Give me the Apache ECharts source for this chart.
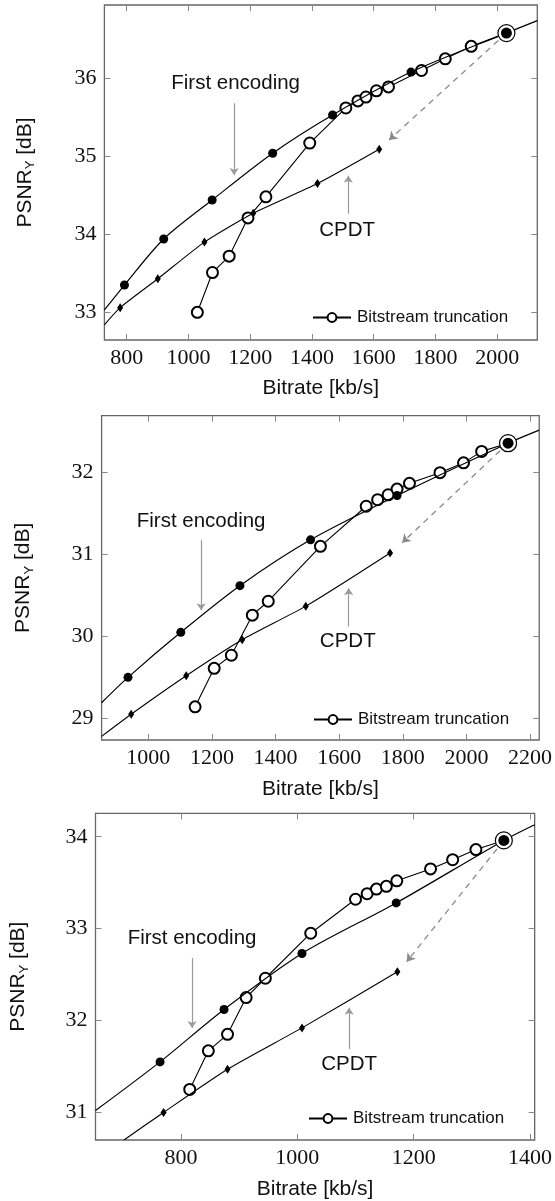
<!DOCTYPE html>
<html><head><meta charset="utf-8">
<script src="https://cdn.jsdelivr.net/npm/echarts@6/dist/echarts.min.js"></script>
<style>html,body{margin:0;padding:0;background:#fff}#c{width:555px;height:1201px}</style>
</head><body><div id="c"></div>
<script>
// ---------- Panel 1 data ----------
const p1FirstEnc = [[793,33.35],[920,33.94],[1077,34.44],[1273,35.04],[1467,35.53],[1721,36.08],[2030,36.58]];
const p1FirstEncExt = [[728,33.03],[2130,36.74]];
const p1Trunc = [[1029,33.00],[1078,33.51],[1132,33.72],[1193,34.21],[1251,34.48],[1393,35.17],[1510,35.62],[1549,35.71],[1575,35.76],[1609,35.84],[1648,35.89],[1755,36.10],[1832,36.25],[1916,36.41],[2030,36.58]];
const p1Cpdt = [[779,33.06],[901,33.43],[1052,33.90],[1210,34.27],[1418,34.65],[1618,35.09]];
const p1CpdtExt = [[728,32.84]];
const p1Start = [2030,36.58];
const p1XTicks = [800,1000,1200,1400,1600,1800,2000];
const p1YTicks = [33,34,35,36];

// ---------- Panel 2 data ----------
const p2FirstEnc = [[936,29.50],[1102,30.05],[1288,30.62],[1510,31.18],[1782,31.72],[2131,32.36]];
const p2FirstEncExt = [[853,29.19],[2229,32.52]];
const p2Trunc = [[1147,29.14],[1207,29.61],[1261,29.77],[1327,30.26],[1377,30.43],[1541,31.10],[1685,31.59],[1721,31.67],[1754,31.73],[1782,31.80],[1821,31.87],[1917,32.00],[1991,32.12],[2048,32.26],[2131,32.36]];
const p2Cpdt = [[946,29.05],[1119,29.52],[1295,29.96],[1495,30.37],[1760,31.02]];
const p2CpdtExt = [[853,28.78]];
const p2Start = [2131,32.36];
const p2XTicks = [1000,1200,1400,1600,1800,2000,2200];
const p2YTicks = [29,30,31,32];

// ---------- Panel 3 data ----------
const p3FirstEnc = [[764,31.55],[874,32.12],[1008,32.73],[1170,33.28],[1355,33.96]];
const p3FirstEncExt = [[653,31.02],[1408,34.13]];
const p3Trunc = [[815,31.25],[847,31.67],[880,31.85],[912,32.25],[945,32.46],[1023,32.95],[1100,33.32],[1120,33.38],[1136,33.43],[1153,33.46],[1171,33.52],[1229,33.65],[1267,33.75],[1307,33.86],[1355,33.96]];
const p3Cpdt = [[770,31.00],[880,31.47],[1008,31.92],[1172,32.53]];
const p3CpdtExt = [[702,30.70]];
const p3Start = [1355,33.96];
const p3XTicks = [800,1000,1200,1400];
const p3YTicks = [31,32,33,34];

const SANS = 'Liberation Sans', SERIF = 'Liberation Serif';

const panels = [
  {fe:p1FirstEnc, feExt:p1FirstEncExt, tr:p1Trunc, cp:p1Cpdt, cpExt:p1CpdtExt, start:p1Start, xt:p1XTicks, yt:p1YTicks,
   grid:{left:104.4, top:5, width:432.9, height:335}, x:[728,2130], y:[32.645,36.94],
   dashEnd:[1650,35.21], feText:[1153,35.93], feArrow:[[1148,35.68],[1148,34.76]],
   cpText:[1514,34.05], cpArrow:[[1518,34.265],[1518,34.75]], legend:{left:312, top:309}, yGap:67},
  {fe:p2FirstEnc, feExt:p2FirstEncExt, tr:p2Trunc, cp:p2Cpdt, cpExt:p2CpdtExt, start:p2Start, xt:p2XTicks, yt:p2YTicks,
   grid:{left:101.6, top:415.7, width:439.3, height:324.3}, x:[853,2229], y:[28.735,32.696],
   dashEnd:[1798,31.145], feText:[1166,31.41], feArrow:[[1166,31.18],[1166,30.32]],
   cpText:[1627,29.935], cpArrow:[[1630,30.12],[1630,30.59]], legend:{left:313, top:711}, yGap:66},
  {fe:p3FirstEnc, feExt:p3FirstEncExt, tr:p3Trunc, cp:p3Cpdt, cpExt:p3CpdtExt, start:p3Start, xt:p3XTicks, yt:p3YTicks,
   grid:{left:94.9, top:813.3, width:442.4, height:326.7}, x:[653,1408], y:[30.70,34.255],
   dashEnd:[1188,32.64], feText:[819,32.89], feArrow:[[819,32.68],[819,31.92]],
   cpText:[1089,31.52], cpArrow:[[1089,31.69],[1089,32.14]], legend:{left:308, top:1110}, yGap:65}
];

const option = {animation:false, backgroundColor:'#fff', grid:[], xAxis:[], yAxis:[], series:[], legend:[]};
const tickStyle = {show:true, inside:true, length:6, lineStyle:{color:'#888', width:1}};
const plain = v => String(v);

panels.forEach((p, i) => {
  option.grid.push(Object.assign({show:true, borderColor:'#666', borderWidth:1.3, backgroundColor:'transparent'}, p.grid));
  const xb = option.xAxis.length, yb = option.yAxis.length;
  option.xAxis.push({type:'value', gridIndex:i, position:'bottom', min:p.x[0], max:p.x[1],
    axisLine:{show:false}, splitLine:{show:false},
    axisTick:Object.assign({customValues:p.xt}, tickStyle),
    axisLabel:{customValues:p.xt, formatter:plain, fontFamily:SERIF, fontSize:22, color:'#111', margin:7},
    name:'Bitrate [kb/s]', nameLocation:'middle', nameGap:38 + (i>0?1:0),
    nameTextStyle:{fontFamily:SANS, fontSize:21, color:'#111', verticalAlign:'top'}});
  option.xAxis.push({type:'value', gridIndex:i, position:'top', min:p.x[0], max:p.x[1],
    axisLine:{show:false}, splitLine:{show:false}, axisLabel:{show:false},
    axisTick:Object.assign({customValues:p.xt}, tickStyle)});
  option.yAxis.push({type:'value', gridIndex:i, position:'left', min:p.y[0], max:p.y[1],
    axisLine:{show:false}, splitLine:{show:false},
    axisTick:Object.assign({customValues:p.yt}, tickStyle),
    axisLabel:{customValues:p.yt, formatter:plain, fontFamily:SERIF, fontSize:22, color:'#111', margin:8},
    name:'{a|PSNR}{b|Y}{a| [dB]}', nameLocation:'middle', nameGap:p.yGap, nameRotate:90,
    nameTextStyle:{color:'#111', rich:{a:{fontFamily:SANS, fontSize:21, color:'#111', lineHeight:24},
      b:{fontFamily:SANS, fontSize:13, color:'#111', lineHeight:24, verticalAlign:'bottom'}}}});
  option.yAxis.push({type:'value', gridIndex:i, position:'right', min:p.y[0], max:p.y[1],
    axisLine:{show:false}, splitLine:{show:false}, axisLabel:{show:false},
    axisTick:Object.assign({customValues:p.yt}, tickStyle)});
  const ax = {xAxisIndex:xb, yAxisIndex:yb};

  // First encoding curve with extensions
  const feData = [{value:p.feExt[0], symbol:'none'}].concat(p.fe.map(v => ({value:v})), [{value:p.feExt[1], symbol:'none'}]);
  option.series.push(Object.assign({type:'line', name:'First encoding', data:feData, smooth:0.3,
    symbol:'circle', symbolSize:9, itemStyle:{color:'#000', opacity:1}, lineStyle:{color:'#000', width:1.2}, z:4, silent:true}, ax));
  // CPDT
  const cpData = [{value:p.cpExt[0], symbol:'none'}].concat(p.cp.map(v => ({value:v})));
  option.series.push(Object.assign({type:'line', name:'CPDT', data:cpData, smooth:0.2,
    symbol:'diamond', symbolSize:[6,9], itemStyle:{color:'#000', opacity:1}, lineStyle:{color:'#000', width:1.1}, z:4, silent:true}, ax));
  // Bitstream truncation
  option.series.push(Object.assign({type:'line', name:'Bitstream truncation', data:p.tr,
    symbol:'emptyCircle', symbolSize:11, itemStyle:{color:'#000', borderColor:'#000', borderWidth:1},
    lineStyle:{color:'#000', width:1.1}, z:3, silent:true}, ax));
  // Dashed arrow from start point to CPDT end
  option.series.push(Object.assign({type:'lines', coordinateSystem:'cartesian2d', data:[{coords:[p.start, p.dashEnd]}],
    lineStyle:{color:'#8a8a8a', width:1.3, type:[6,5], opacity:1}, symbol:['none','arrow'], symbolSize:8, z:2, silent:true}, ax));
  // Annotation arrows
  option.series.push(Object.assign({type:'lines', coordinateSystem:'cartesian2d',
    data:[{coords:p.feArrow},{coords:p.cpArrow}],
    lineStyle:{color:'#9a9a9a', width:1.2, opacity:1}, symbol:['none','arrow'], symbolSize:7, z:2, silent:true}, ax));
  // Start point: big open circle + filled center
  option.series.push(Object.assign({type:'scatter', data:[p.start], symbol:'circle', symbolSize:17,
    itemStyle:{color:'#fff', borderColor:'#000', borderWidth:1.2, opacity:1}, z:6, silent:true}, ax));
  option.series.push(Object.assign({type:'scatter', data:[p.start], symbol:'circle', symbolSize:11,
    itemStyle:{color:'#000', opacity:1}, z:7, silent:true}, ax));
  // Text annotations
  option.series.push(Object.assign({type:'scatter', symbolSize:0, silent:true, z:8,
    itemStyle:{opacity:1},
    data:[{value:p.feText, name:'First encoding'},{value:p.cpText, name:'CPDT'}],
    label:{show:true, position:'inside', formatter:'{b}', fontFamily:SANS, fontSize:20.5, color:'#111',
      textBorderWidth:0, opacity:1}}, ax));

  option.legend.push({left:p.legend.left, top:p.legend.top, data:['Bitstream truncation'], itemWidth:38, itemHeight:11,
    itemGap:0, selectedMode:false, textStyle:{fontFamily:SANS, fontSize:17, color:'#111', padding:[0,0,0,1]},
    padding:0});
});

const chart = echarts.init(document.getElementById('c'), null, {renderer:'canvas'});
chart.setOption(option);
</script></body></html>
